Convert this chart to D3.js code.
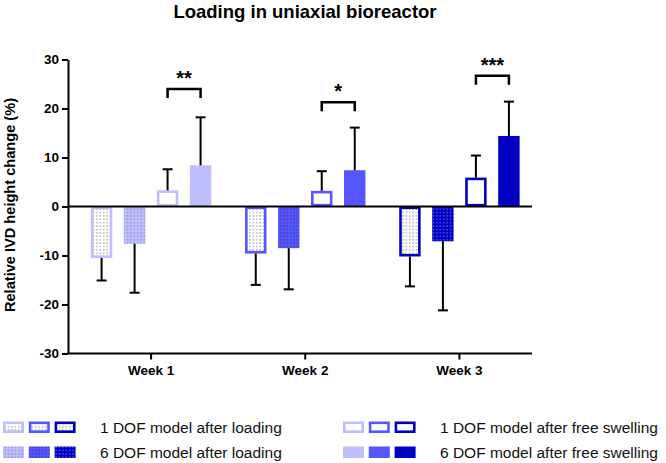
<!DOCTYPE html>
<html><head><meta charset="utf-8">
<script src="https://cdn.jsdelivr.net/npm/d3@7"></script>
<style>body{margin:0;background:#fff}svg{display:block;font-family:"Liberation Sans",Arial,sans-serif}</style>
</head><body><svg id="c" width="666" height="463"></svg>
<script>
const categories = ["Week 1", "Week 2", "Week 3"];
const seriesNames = ["1 DOF model after loading", "6 DOF model after loading", "1 DOF model after free swelling", "6 DOF model after free swelling"];
const loading1DOF = [-10.5, -9.6, -10.2];
const loading6DOF = [-7.6, -8.5, -7.1];
const swelling1DOF = [3.3, 3.2, 5.9];
const swelling6DOF = [8.4, 7.4, 14.4];
const loading1DOFsd = [4.6, 6.4, 6.1];
const loading6DOFsd = [10.0, 8.4, 14.1];
const swelling1DOFsd = [4.3, 4.0, 4.5];
const swelling6DOFsd = [9.8, 8.7, 7.0];
const yTicks = [-30, -20, -10, 0, 10, 20, 30];
const sigLabels = ["**", "*", "***"];
const sigLevels = [24.0, 21.3, 26.7];
const weekColors = ["#bfbfff", "#5656ff", "#0000c2"];
const dotColors6 = ["#5c5ca8", "#1c1c70", "#b8b8ff"];

const means = [loading1DOF, loading6DOF, swelling1DOF, swelling6DOF];
const sds = [loading1DOFsd, loading6DOFsd, swelling1DOFsd, swelling6DOFsd];

const svg = d3.select("#c");
const defs = svg.append("defs");
function dotPattern(id, bg, dot) {
  const p = defs.append("pattern").attr("id", id).attr("patternUnits", "userSpaceOnUse")
    .attr("width", 3.4).attr("height", 3.4);
  p.append("rect").attr("width", 3.4).attr("height", 3.4).attr("fill", bg);
  p.append("rect").attr("x", 1.2).attr("y", 1.2).attr("width", 1).attr("height", 1).attr("fill", dot);
}
dotPattern("dotW", "#fff", "#555");
weekColors.forEach((c, i) => dotPattern("dotC" + i, c, dotColors6[i]));

const y = d3.scaleLinear().domain([-30, 30]).range([353.5, 59.5]);
const x0 = d3.scaleBand().domain(categories).range([74, 536.5]).paddingInner(0.144).paddingOuter(0.072);
const x1 = d3.scaleBand().domain(d3.range(4)).range([0, x0.bandwidth()]).paddingInner(0.35).paddingOuter(0.175);

// title
svg.append("text").attr("x", 305).attr("y", 18).attr("text-anchor", "middle")
  .attr("font-size", 18.5).attr("font-weight", "bold").text("Loading in uniaxial bioreactor");

// y label
svg.append("text").attr("transform", "translate(15,205) rotate(-90)").attr("text-anchor", "middle")
  .attr("font-size", 14.6).attr("font-weight", "bold").text("Relative IVD height change (%)");

// bars
const bars = [];
categories.forEach((cat, w) => {
  for (let s = 0; s < 4; s++) bars.push({cat, w, s, v: means[s][w], sd: sds[s][w]});
});
const g = svg.append("g");
const sw = 2.6;
bars.forEach(b => {
  const bx = x0(b.cat) + x1(b.s), bw = x1.bandwidth();
  const y0 = y(0), y1 = y(b.v);
  const top = Math.min(y0, y1), h = Math.abs(y1 - y0);
  const col = weekColors[b.w];
  if (b.s === 0 || b.s === 2) {
    g.append("rect").attr("x", bx + sw / 2).attr("y", top + sw / 2)
      .attr("width", bw - sw).attr("height", Math.max(0, h - sw))
      .attr("fill", b.s === 0 ? "url(#dotW)" : "#fff").attr("stroke", col).attr("stroke-width", sw);
  } else {
    g.append("rect").attr("x", bx).attr("y", top).attr("width", bw).attr("height", h)
      .attr("fill", b.s === 1 ? "url(#dotC" + b.w + ")" : col);
  }
  const cx = bx + bw / 2;
  const ye = y(b.v + Math.sign(b.v) * b.sd);
  g.append("line").attr("x1", cx).attr("x2", cx).attr("y1", y1).attr("y2", ye)
    .attr("stroke", "#000").attr("stroke-width", 2);
  g.append("line").attr("x1", cx - 5).attr("x2", cx + 5).attr("y1", ye).attr("y2", ye)
    .attr("stroke", "#000").attr("stroke-width", 2);
});

// zero line
svg.append("line").attr("x1", 68).attr("x2", 532).attr("y1", y(0)).attr("y2", y(0))
  .attr("stroke", "#000").attr("stroke-width", 2);

// y axis
const ya = svg.append("g").attr("transform", "translate(68,0)")
  .call(d3.axisLeft(y).tickValues(yTicks).tickFormat(d => String(d)).tickSize(6).tickPadding(3).tickSizeOuter(0));
ya.select(".domain").attr("stroke-width", 2);
ya.selectAll(".tick line").attr("stroke-width", 2);
ya.selectAll("text").attr("font-size", 13.5).attr("font-weight", "bold").attr("fill", "#000")
  .attr("font-family", "Liberation Sans, Arial, sans-serif");

// x axis
const xa = svg.append("g").attr("transform", "translate(0," + y(-30) + ")")
  .call(d3.axisBottom(x0).tickSize(6).tickPadding(6).tickSizeOuter(0));
xa.select(".domain").attr("d", "M67,0H532").attr("stroke-width", 2);
xa.selectAll(".tick line").attr("stroke-width", 2);
xa.selectAll("text").attr("font-size", 13.5).attr("font-weight", "bold").attr("fill", "#000")
  .attr("font-family", "Liberation Sans, Arial, sans-serif");

// significance brackets
categories.forEach((cat, w) => {
  const xa_ = x0(cat) + x1(2) + x1.bandwidth() / 2;
  const xb_ = x0(cat) + x1(3) + x1.bandwidth() / 2;
  const yl = y(sigLevels[w]);
  svg.append("path").attr("d", `M${xa_},${yl + 9}V${yl}H${xb_}V${yl + 9}`)
    .attr("fill", "none").attr("stroke", "#000").attr("stroke-width", 2.5);
  svg.append("text").attr("x", (xa_ + xb_) / 2).attr("y", yl - 4).attr("text-anchor", "middle")
    .attr("font-size", 20).attr("font-weight", "bold").text(sigLabels[w]);
});

// legend
const legX = [3, 343];
const legRows = [421.5, 446.5];
seriesNames.forEach((name, s) => {
  const col = s < 2 ? 0 : 1;
  const row = s % 2;
  const lx = legX[col], ly = legRows[row];
  for (let w = 0; w < 3; w++) {
    const sx = lx + w * 25.8;
    if (s === 0 || s === 2) {
      svg.append("rect").attr("x", sx + 1.3).attr("y", ly + 1.3).attr("width", 21 - 2.6).attr("height", 11.5 - 2.6)
        .attr("fill", s === 0 ? "url(#dotW)" : "#fff").attr("stroke", weekColors[w]).attr("stroke-width", 2.6);
    } else {
      svg.append("rect").attr("x", sx).attr("y", ly).attr("width", 21).attr("height", 11.5)
        .attr("fill", s === 1 ? "url(#dotC" + w + ")" : weekColors[w]);
    }
  }
  svg.append("text").attr("x", lx + 97).attr("y", ly + 11).attr("font-size", 15.5).attr("fill", "#111").text(name);
});
</script></body></html>
